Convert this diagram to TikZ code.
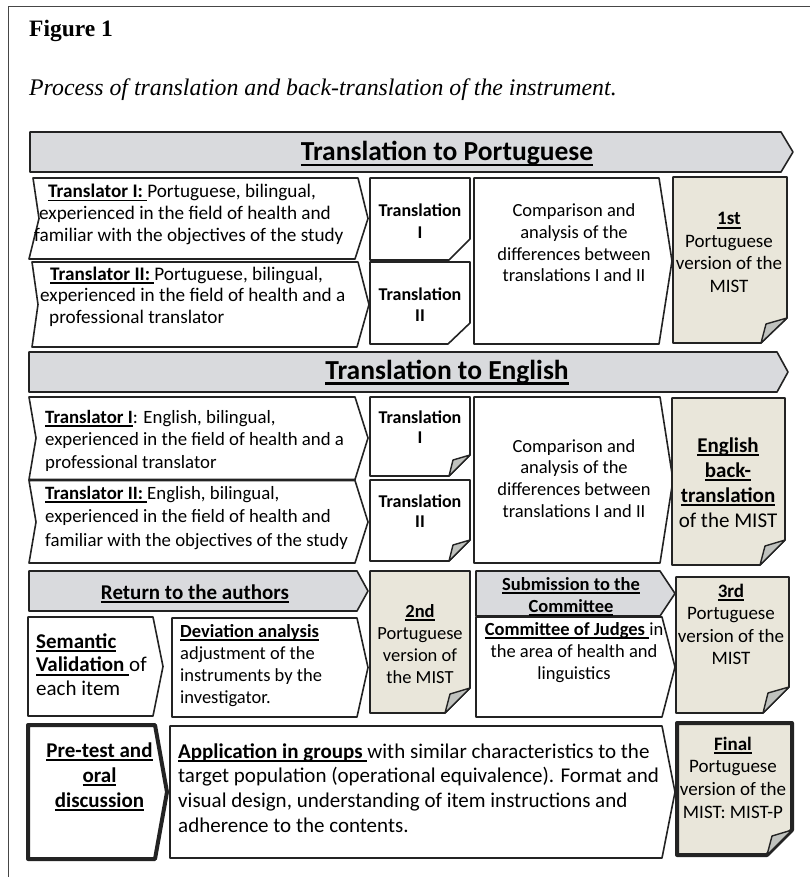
\documentclass[tikz,border=0pt]{standalone}
\usepackage{fontspec}
\setmainfont{Carlito}
\newfontfamily\capfont{Liberation Serif}
\definecolor{bandfill}{RGB}{217,218,221}
\definecolor{docfill}{RGB}{233,230,218}
\definecolor{foldfill}{RGB}{192,194,190}
\definecolor{edge}{RGB}{35,35,35}
\definecolor{framecol}{RGB}{70,70,70}
\newcommand\myul[1]{\setbox0\hbox{#1}\rlap{\rule[-0.19em]{\wd0}{0.085em}}\box0}
\newcommand\lns[2]{\begin{tabular}[t]{@{}#1@{}}#2\end{tabular}}
\newcommand\fs[2]{\fontsize{#1}{#2}\selectfont}
\begin{document}
\begin{tikzpicture}[x=1pt,y=-1pt,
  shp/.style={draw=edge,line width=1.6pt,line join=round,fill=white},
  band/.style={shp,fill=bandfill},
  doc/.style={shp,fill=docfill},
  fold/.style={draw=edge,line width=1.4pt,line join=round,fill=foldfill},
  thick/.style={line width=4pt},
  txt/.style={inner sep=0pt,anchor=base},
  txtl/.style={inner sep=0pt,anchor=base west}]
\useasboundingbox (0,0) rectangle (810,877);
% frame
\draw[framecol,line width=1pt] (8,877) -- (8,7) -- (810,7);
\node[txtl,font=\capfont\fs{23.5}{27}\bfseries] (fig) at (29,37) {Figure 1};
\node[txtl,font=\capfont\fs{23.8}{27}\itshape] (cap) at (29,95.5) {Process of translation and back-translation of the instrument.};

% ---------- bands ----------
\draw[band] (30,132) -- (781,132) -- (793,152) -- (781,172) -- (30,172) -- cycle;
\draw[band] (29,352) -- (777,352) -- (788,372) -- (777,392) -- (29,392) -- cycle;
\draw[band] (29,571) -- (357,571) -- (368,591) -- (357,611) -- (29,611) -- cycle;
\draw[band] (476,571) -- (660,571) -- (675,593.5) -- (660,616) -- (476,616) -- cycle;

% ---------- row 1 ----------
\draw[shp] (33,178) -- (358,178) -- (368,218.5) -- (355,259) -- (29,259) -- (39,218.5) -- cycle;
\draw[shp] (32,262) -- (358,262) -- (369,304.5) -- (357,347) -- (32,347) -- (38,304.5) -- cycle;
\draw[shp] (370,178) -- (470,178) -- (470,239) -- (449,260) -- (370,260) -- cycle;
\draw[shp] (370,262) -- (470,262) -- (470,323) -- (448,344) -- (370,344) -- cycle;
\draw[shp] (474,178) -- (659,178) -- (672,261) -- (659,344) -- (474,344) -- cycle;
\draw[doc] (673,177) -- (787,177) -- (787,318) -- (761,343) -- (673,343) -- cycle;
\draw[fold] (787,318) -- (761,343) -- (766,324) -- cycle;

% ---------- row 2 ----------
\draw[shp] (29,397) -- (355,397) -- (368,438) -- (355,479.5) -- (29,479.5) -- (36,438) -- cycle;
\draw[shp] (29,480.5) -- (355,480.5) -- (368,522) -- (355,563) -- (29,563) -- (36,522) -- cycle;
\draw[shp] (370,397) -- (470,397) -- (470,455) -- (449,476) -- (370,476) -- cycle;
\draw[fold] (470,455) -- (449,476) -- (453,460) -- cycle;
\draw[shp] (370,480) -- (470,480) -- (470,540) -- (449,561) -- (370,561) -- cycle;
\draw[fold] (470,540) -- (449,561) -- (453,545) -- cycle;
\draw[shp] (474,397) -- (660,397) -- (673,480) -- (660,563) -- (474,563) -- cycle;
\draw[doc] (672,398) -- (785,398) -- (785,540) -- (760,565) -- (672,565) -- cycle;
\draw[fold] (785,540) -- (760,565) -- (765,546) -- cycle;

% ---------- row 3 ----------
\draw[shp] (28,617) -- (153,617) -- (163,666.5) -- (153,716) -- (28,716) -- cycle;
\draw[shp] (172,618) -- (357,618) -- (368,667.5) -- (357,717) -- (172,717) -- cycle;
\draw[doc] (370,571) -- (470,571) -- (470,688) -- (445,713) -- (370,713) -- cycle;
\draw[fold] (470,688) -- (445,713) -- (450,694) -- cycle;
\draw[shp] (476,617) -- (662,617) -- (675,667) -- (662,717) -- (476,717) -- cycle;
\draw[doc] (676,577) -- (789,577) -- (789,687) -- (763,713) -- (676,713) -- cycle;
\draw[fold] (789,687) -- (763,713) -- (768,693) -- cycle;

% ---------- row 4 ----------
\draw[shp,thick] (28,725) -- (155,725) -- (167,792) -- (155,859) -- (28,859) -- cycle;
\draw[shp] (170,726) -- (662,726) -- (675,792) -- (662,858) -- (170,858) -- cycle;
\draw[doc,thick] (677,723) -- (792,723) -- (792,830) -- (767,855) -- (677,855) -- cycle;
\draw[fold] (792,830) -- (767,855) -- (772,836) -- cycle;

% ---------- texts ----------
\node[txt,font=\fs{27.5}{32}\bfseries] (t1) at (447,160.7) {\myul{Translation to Portuguese}};
\node[txt,font=\fs{27.5}{32}\bfseries] (t2) at (447,379.3) {\myul{Translation to English}};
\node[txt,font=\fs{21}{24}\bfseries] (t3) at (195,599) {\myul{Return to the authors}};
\node[txt,font=\fs{18.5}{22}\bfseries] (t4) at (571,590) {\lns{c}{\myul{Submission to the}\\ \myul{Committee}}};

\node[txtl,font=\fs{19.2}{22}] (a1) at (34,197.7) {\lns{l}{\hspace*{14pt}\myul{\textbf{Translator I: }}Portuguese, bilingual,\\ \hspace*{5pt}experienced in the field of health and\\ familiar with the objectives of the study}};
\node[txtl,font=\fs{19.2}{21.7}] (a2) at (40,280) {\lns{l}{\hspace*{10pt}\myul{\textbf{Translator II: }}Portuguese, bilingual,\\ experienced in the field of health and a\\ \hspace*{9pt}professional translator}};
\node[txt,font=\fs{18}{21}\bfseries] (a3) at (420,217) {\lns{c}{Translation\\ I}};
\node[txt,font=\fs{18}{21}\bfseries] (a4) at (420,300) {\lns{c}{Translation\\ II}};
\node[txt,font=\fs{18.5}{21.7}] (a5) at (574,216.7) {\lns{c}{Comparison and\\ analysis of the\\ differences between\\ translations I and II}};
\node[txt,font=\fs{19}{22.5}] (a6) at (729,225) {\lns{c}{\myul{\textbf{1st}}\\ Portuguese\\ version of the\\ MIST}};

\node[txtl,font=\fs{18.8}{22.5}] (b1) at (45,423) {\lns{l}{\myul{\textbf{Translator I}}: English, bilingual,\\ experienced in the field of health and a\\ professional translator}};
\node[txtl,font=\fs{18.8}{23.5}] (b2) at (45,499) {\lns{l}{\myul{\textbf{Translator II: }}English, bilingual,\\ experienced in the field of health and\\ familiar with the objectives of the study}};
\node[txt,font=\fs{18}{20}\bfseries] (b3) at (420,423) {\lns{c}{Translation\\ I}};
\node[txt,font=\fs{18}{20}\bfseries] (b4) at (420,507) {\lns{c}{Translation\\ II}};
\node[txt,font=\fs{18.5}{21.7}] (b5) at (574,452) {\lns{c}{Comparison and\\ analysis of the\\ differences between\\ translations I and II}};
\node[txt,font=\fs{21}{25}] (b6) at (728,452) {\lns{c}{\myul{\textbf{English}}\\ \myul{\textbf{back-}}\\ \myul{\textbf{translation}}\\ of the MIST}};

\node[txtl,font=\fs{21}{23.7}] (c1) at (36,648) {\lns{l}{\myul{\textbf{Semantic}}\\ \myul{\textbf{Validation }}of\\ each item}};
\node[txtl,font=\fs{18.5}{22}] (c2) at (180,637) {\lns{l}{\myul{\textbf{Deviation analysis}}\\ adjustment of the\\ instruments by the\\ investigator.}};
\node[txt,font=\fs{18.5}{22}] (c3) at (420,617) {\lns{c}{\myul{\textbf{2nd}}\\ Portuguese\\ version of\\ the MIST}};
\node[txt,font=\fs{18.5}{22.3}] (c4) at (574,635) {\lns{c}{\myul{\textbf{Committee of Judges }}in\\ the area of health and\\ linguistics}};
\node[txt,font=\fs{19}{22.5}] (c5) at (731,597) {\lns{c}{\myul{\textbf{3rd}}\\ Portuguese\\ version of the\\ MIST}};

\node[txt,font=\fs{21}{25}\bfseries] (d1) at (99.5,757) {\lns{c}{\myul{Pre-test and}\\ \myul{oral}\\ \myul{discussion}}};
\node[txtl,font=\fs{21}{24.7}] (d2) at (178,758) {\lns{l}{\myul{\textbf{Application in groups }}with similar characteristics to the\\ target population (operational equivalence). Format and\\ visual design, understanding of item instructions and\\ adherence to the contents.}};
\node[txt,font=\fs{19}{22.7}] (d3) at (733,750) {\lns{c}{\myul{\textbf{Final}}\\ Portuguese\\ version of the\\ MIST: MIST-P}};
\end{tikzpicture}
\end{document}
